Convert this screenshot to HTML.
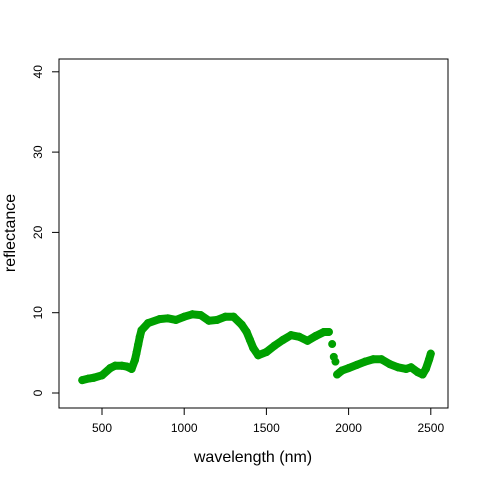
<!DOCTYPE html>
<html><head><meta charset="utf-8"><style>body{margin:0;background:#fff}svg{display:block;font-family:"Liberation Sans",sans-serif}</style></head>
<body>
<svg id="chart" width="480" height="480" viewBox="0 0 480 480">
<rect x="59" y="59" width="389" height="349" fill="none" stroke="#000" stroke-width="1"/>
<g id="axes"></g>
<g id="marks"></g>
<text x="253" y="462" font-size="16" text-anchor="middle">wavelength (nm)</text>
<text transform="translate(15,233) rotate(-90)" font-size="16" text-anchor="middle">reflectance</text>
</svg>
<script>
const wavelengths=[380,420,450,500,550,580,620,650,680,700,710,720,730,740,780,850,900,950,1000,1050,1100,1150,1200,1250,1300,1350,1380,1400,1420,1450,1500,1550,1600,1650,1700,1750,1800,1850,1880,1900,1910,1920,1930,1960,2000,2050,2100,2150,2200,2250,2300,2350,2380,2420,2450,2470,2490,2500];
const reflectance=[1.6,1.8,1.9,2.2,3.1,3.4,3.4,3.3,3.0,4.1,5.0,6.0,7.0,7.8,8.7,9.2,9.3,9.1,9.5,9.8,9.7,9.0,9.1,9.5,9.5,8.5,7.6,6.6,5.6,4.7,5.1,5.9,6.6,7.2,7.0,6.5,7.1,7.6,7.6,6.1,4.5,3.9,2.3,2.8,3.1,3.5,3.9,4.2,4.2,3.6,3.2,3.0,3.2,2.6,2.3,3.0,4.2,4.9];
const xTicks=[500,1000,1500,2000,2500];
const yTicks=[0,10,20,30,40];
const NS="http://www.w3.org/2000/svg";
function xs(w){return 102+(w-500)*0.1644;}
function ys(v){return 393-v*8.03;}
const axes=document.getElementById('axes');
function mk(tag,attrs,parent){const e=document.createElementNS(NS,tag);for(const k in attrs)e.setAttribute(k,attrs[k]);parent.appendChild(e);return e;}
const xl=mk('line',{x1:xs(500),x2:xs(2500),y1:408,y2:408,stroke:'#000'},axes);


xTicks.forEach(t=>{
  const l=mk('line',{x1:xs(t),x2:xs(t),y1:408,y2:415,stroke:'#000'},axes);
  
  
  const tx=mk('text',{x:xs(t),y:432,'font-size':12,'text-anchor':'middle'},axes);
  tx.textContent=t;
  
  
});
const yl=mk('line',{x1:59,x2:59,y1:ys(0),y2:ys(40),stroke:'#000'},axes);


yTicks.forEach(t=>{
  const l=mk('line',{x1:52,x2:59,y1:ys(t),y2:ys(t),stroke:'#000'},axes);
  
  
  const tx=mk('text',{transform:`translate(42,${ys(t)}) rotate(-90)`,'font-size':12,'text-anchor':'middle'},axes);
  tx.textContent=t;
  
  
});
const marks=document.getElementById('marks');
for(let i=0;i<wavelengths.length-1;i++){
  if(wavelengths[i]>=1880&&wavelengths[i+1]<=1930)continue;
  const s=mk('line',{x1:xs(wavelengths[i]),y1:ys(reflectance[i]),x2:xs(wavelengths[i+1]),y2:ys(reflectance[i+1]),stroke:'#00a000','stroke-width':8,'stroke-linecap':'round'},marks);
  
  
}
wavelengths.forEach((w,i)=>{
  const c=mk('circle',{cx:xs(w),cy:ys(reflectance[i]),r:4,fill:'#00a000'},marks);
  
  
});
</script>
</body></html>
